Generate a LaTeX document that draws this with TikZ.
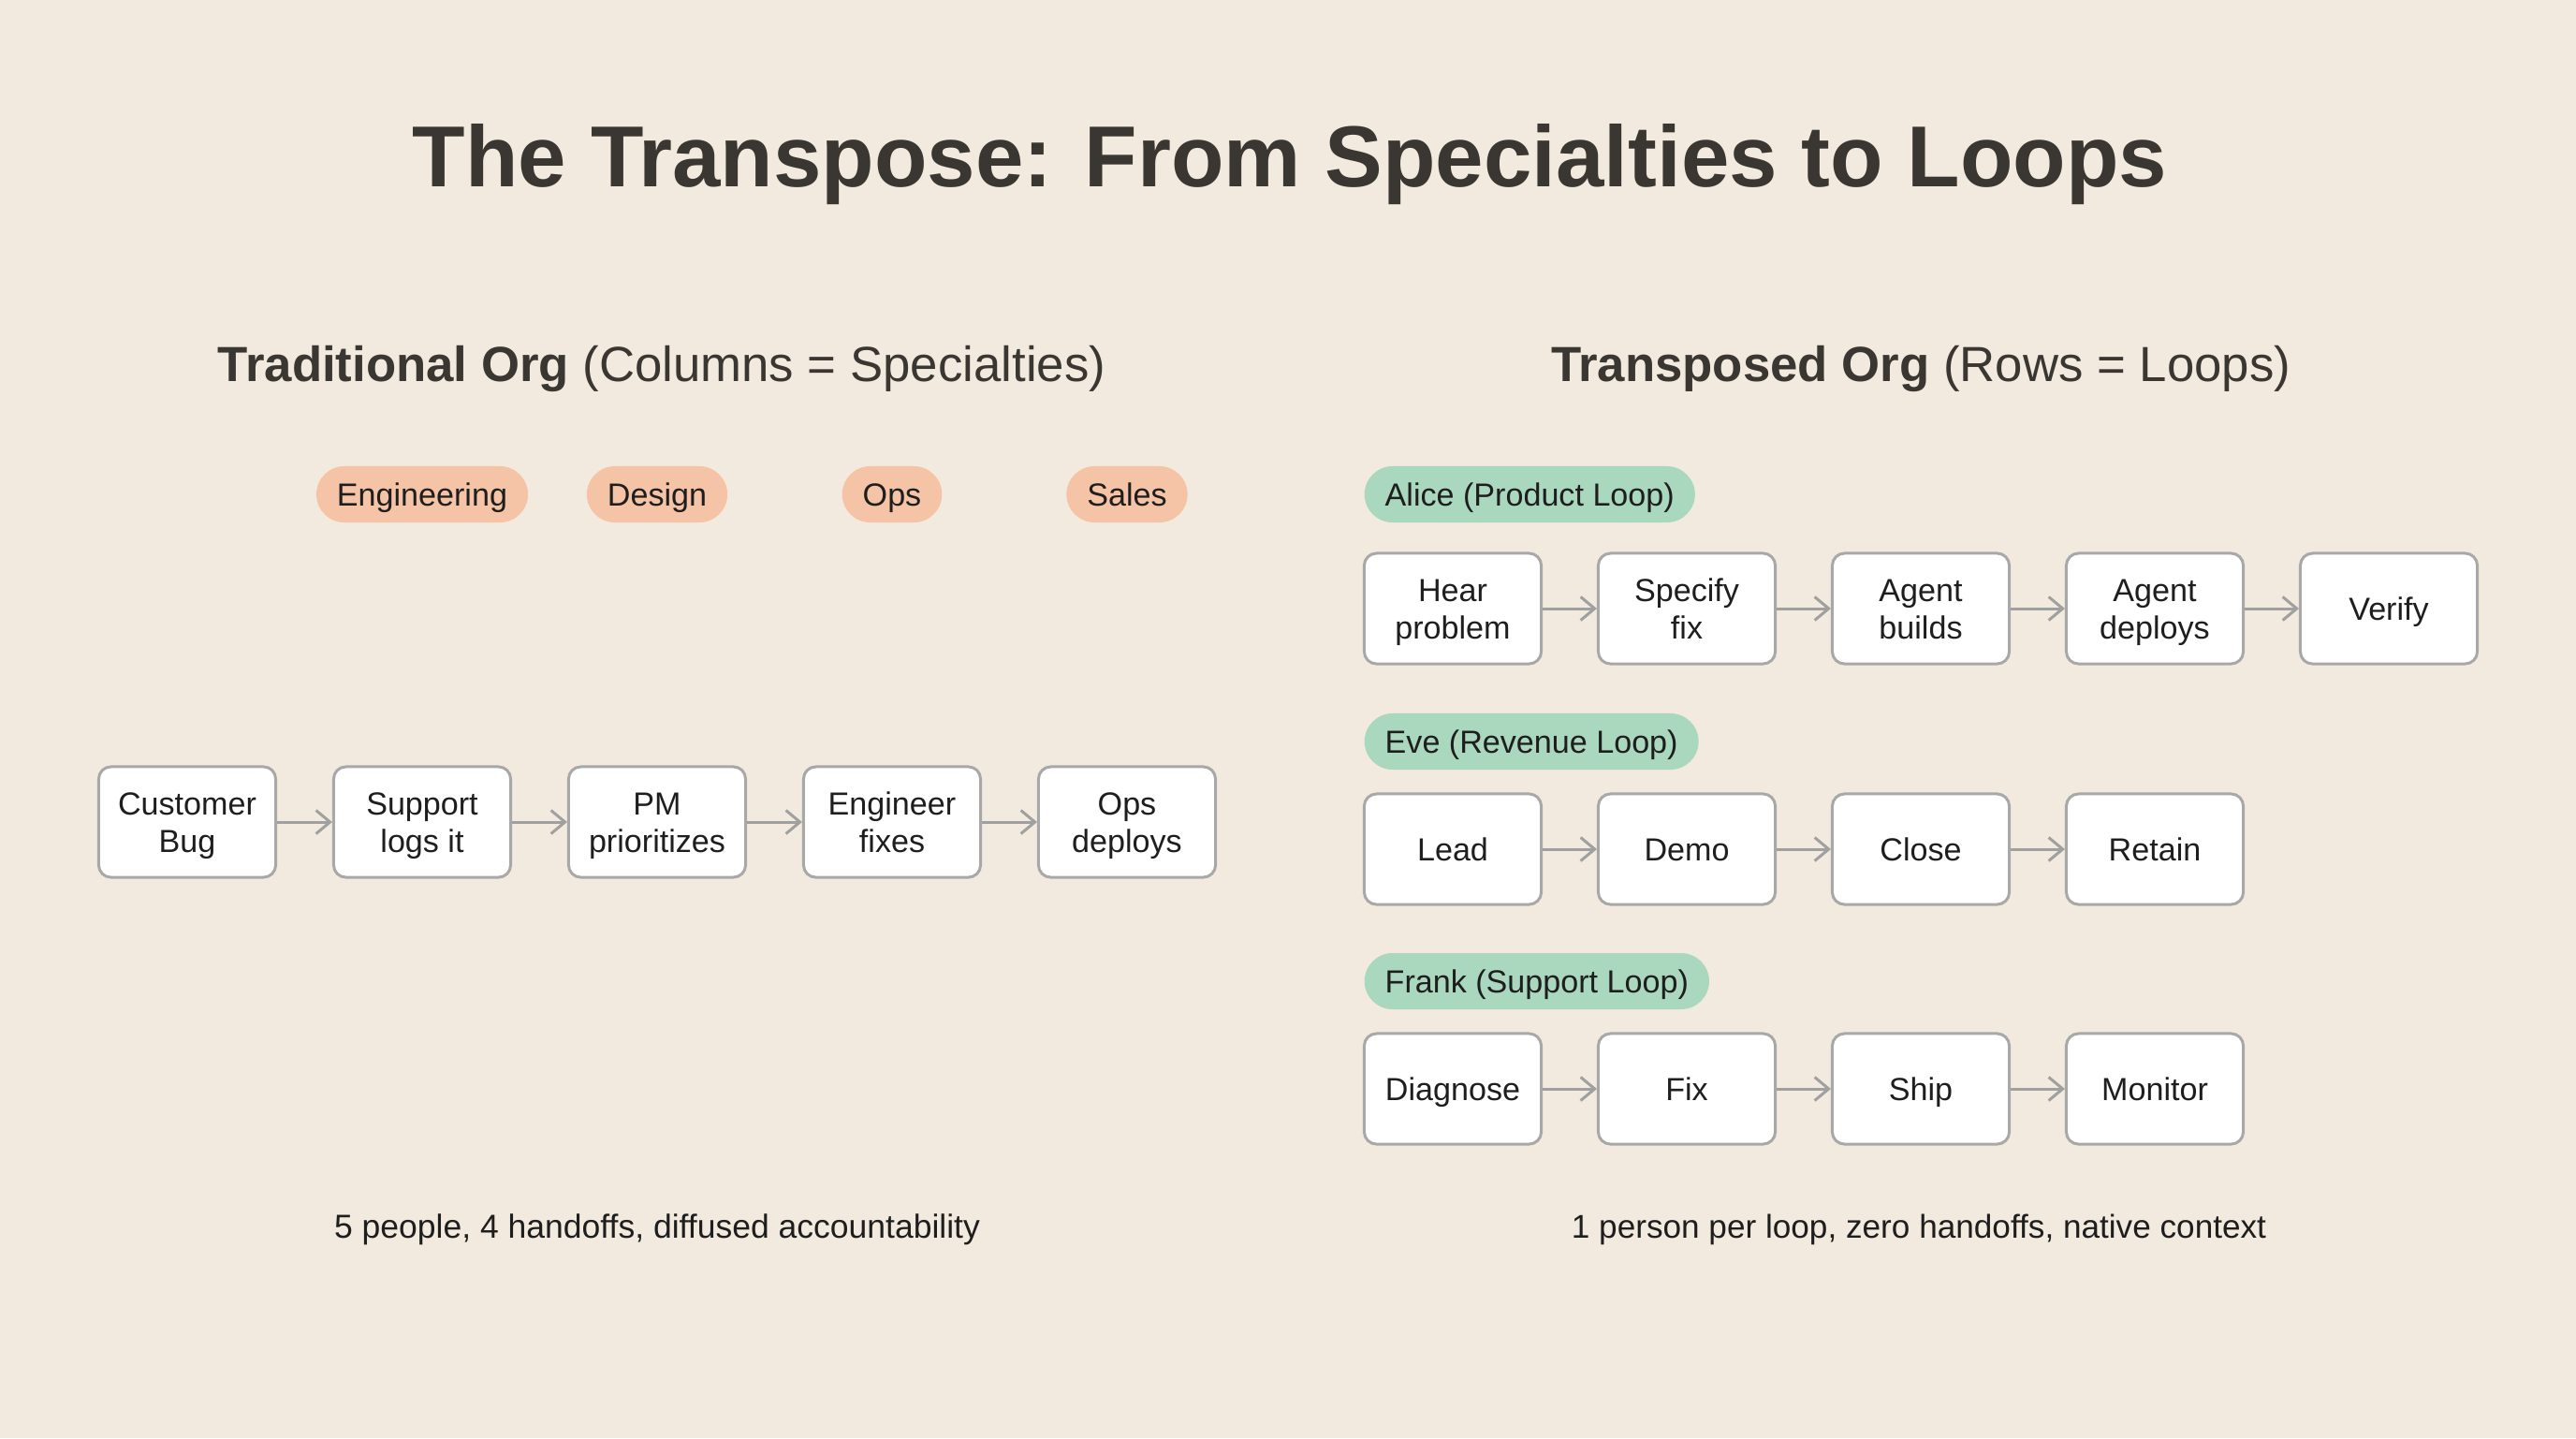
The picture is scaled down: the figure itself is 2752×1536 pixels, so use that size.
\documentclass[tikz,border=0pt]{standalone}
\usepackage{fontspec}
\setmainfont{Liberation Sans}
\usetikzlibrary{arrows.meta}
\definecolor{bg}{HTML}{F2EADE}
\definecolor{titlecol}{HTML}{3A3632}
\definecolor{txt}{HTML}{1E1E1E}
\definecolor{boxline}{HTML}{A8A8A8}
\definecolor{arrowgray}{HTML}{A0A0A0}
\definecolor{salmon}{HTML}{F5C3A5}
\definecolor{mint}{HTML}{A9D8BE}
\newcommand{\botstrut}{\rule[-2.2pt]{0pt}{2.2pt}}
\newcommand{\firstln}{\rule{0pt}{9.2pt}}
\tikzset{
  evenlines/.style={execute at begin node={\rule{0pt}{9.16pt}}, execute at end node=\botstrut},
  stepbox/.style={draw=boxline, fill=white, rounded corners=0.13cm,
    minimum width=1.89cm, minimum height=1.18cm, line width=0.85pt,
    align=center, inner sep=0pt, text=txt, evenlines,
    font=\fontsize{9.7}{11.4}\selectfont},
  pill/.style={rounded corners=0.3cm, minimum height=0.6cm, inner xsep=0.22cm,
    inner ysep=0pt, text=txt, evenlines, font=\fontsize{9.7}{11.4}\selectfont},
  specpill/.style={pill, fill=salmon},
  looppill/.style={pill, fill=mint, anchor=west},
  flow/.style={draw=arrowgray, line width=0.85pt,
    -{Straight Barb[length=0.15cm,width=0.25cm,line width=0.85pt]}},
  heading/.style={anchor=base, text=titlecol, font=\fontsize{15}{17}\selectfont},
  caption/.style={anchor=base, text=txt},
}
\begin{document}
\begin{tikzpicture}[x=0.01cm,y=-0.01cm]
\fill[bg] (0,0) rectangle (2752,1536);
\useasboundingbox (0,0) rectangle (2752,1536);

% title
\node[anchor=base, text=titlecol, font=\fontsize{26.3}{30}\selectfont\bfseries] (title) at (1378,199)
  {The Transpose: From Specialties to Loops};

% headings
\node[heading] (lhead) at (707,407) {\textbf{Traditional Org} (Columns = Specialties)};
\node[heading] (rhead) at (2052,407) {\textbf{Transposed Org} (Rows = Loops)};

% left: specialties
\node[specpill] (eng) at (451,528) {Engineering};
\node[specpill] (des) at (702,528) {Design};
\node[specpill] (ops) at (953,528) {Ops};
\node[specpill] (sal) at (1204,528) {Sales};

% left: flow
\node[stepbox] (l1) at (200,878) {\firstln Customer\\Bug};
\node[stepbox] (l2) at (451,878) {\firstln Support\\logs it};
\node[stepbox] (l3) at (702,878) {\firstln PM\\prioritizes};
\node[stepbox] (l4) at (953,878) {\firstln Engineer\\fixes};
\node[stepbox] (l5) at (1204,878) {\firstln Ops\\deploys};
\draw[flow] (l1) -- (l2);
\draw[flow] (l2) -- (l3);
\draw[flow] (l3) -- (l4);
\draw[flow] (l4) -- (l5);

% right: loops
\node[looppill] (alice) at (1457,528) {Alice (Product Loop)};
\node[stepbox] (a1) at (1552,650) {\firstln Hear\\problem};
\node[stepbox] (a2) at (1802,650) {\firstln Specify\\fix};
\node[stepbox] (a3) at (2052,650) {\firstln Agent\\builds};
\node[stepbox] (a4) at (2302,650) {\firstln Agent\\deploys};
\node[stepbox] (a5) at (2552,650) {Verify};
\draw[flow] (a1) -- (a2);
\draw[flow] (a2) -- (a3);
\draw[flow] (a3) -- (a4);
\draw[flow] (a4) -- (a5);

\node[looppill] (eve) at (1457,792) {Eve (Revenue Loop)};
\node[stepbox] (e1) at (1552,907) {Lead};
\node[stepbox] (e2) at (1802,907) {Demo};
\node[stepbox] (e3) at (2052,907) {Close};
\node[stepbox] (e4) at (2302,907) {Retain};
\draw[flow] (e1) -- (e2);
\draw[flow] (e2) -- (e3);
\draw[flow] (e3) -- (e4);

\node[looppill] (frank) at (1457,1048) {Frank (Support Loop)};
\node[stepbox] (f1) at (1552,1163) {Diagnose};
\node[stepbox] (f2) at (1802,1163) {Fix};
\node[stepbox] (f3) at (2052,1163) {Ship};
\node[stepbox] (f4) at (2302,1163) {Monitor};
\draw[flow] (f1) -- (f2);
\draw[flow] (f2) -- (f3);
\draw[flow] (f3) -- (f4);

% captions
\node[caption, font=\fontsize{10.1}{12}\selectfont] (lcap) at (702,1322) {5 people, 4 handoffs, diffused accountability};
\node[caption, font=\fontsize{10}{12}\selectfont] (rcap) at (2050,1322) {1 person per loop, zero handoffs, native context};
\end{tikzpicture}
\end{document}
